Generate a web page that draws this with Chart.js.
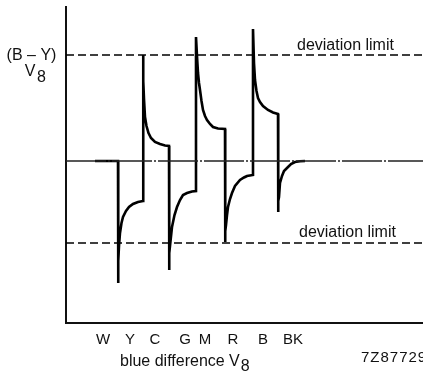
<!DOCTYPE html>
<html lang="en">
<head>
  <meta charset="UTF-8" />
  <title>Blue difference signal V8</title>
  <script src="https://cdn.jsdelivr.net/npm/chart.js"></script>
  <style>
    html, body { margin: 0; padding: 0; background: #fff; }
    #wrap { width: 423px; height: 375px; position: relative; }
  </style>
</head>
<body>
  <div id="wrap"><canvas id="chart"></canvas></div>

  <script>
    // colour bars along x, signal level on y (arbitrary units, 0 = centre line)
    const tickPos = [37, 64, 89, 119, 139, 167, 197, 227];
    const tickLabels = ["W", "Y", "C", "G", "M", "R", "B", "BK"];

    const centreLevel = 0;
    const upperLimit = 106;
    const lowerLimit = -82;

    const traceX = [
      29, 52, 52, 52.5, 53, 54, 55.5, 57, 60, 63, 67, 72, 77,
      77, 77.5, 78, 79, 80.5, 82.5, 85, 89, 94, 99, 103,
      103, 103.5, 104.5, 106, 108.5, 111, 114, 117, 121, 126, 130,
      130, 131, 132, 133, 134, 135.5, 137, 139, 141, 144, 147, 152, 159,
      159, 159.5, 160, 161, 162, 164, 166, 169, 174, 178, 181, 187,
      187, 188, 189, 190.5, 192, 194, 197, 202, 207, 212,
      212, 212.5, 213, 214, 216, 218, 221, 225, 229, 234, 239
    ];
    const traceY = [
      0, 0, -122, -100, -85, -72, -62, -56, -50, -46, -43, -41, -40,
      106, 80, 62, 44, 35, 28, 23, 19, 17, 15.5, 15,
      -109, -92, -80, -66, -54, -46, -39, -34, -32, -30.5, -30,
      124, 105, 88, 78, 71, 60, 51, 45, 41, 37, 34, 32.5, 32,
      -81, -70, -64, -54, -46, -38, -32, -25, -19, -16.5, -15, -14,
      132, 98, 81, 70, 63, 59, 55, 51, 48.5, 47,
      -51, -40, -36, -22, -15, -10, -7, -3, -1, -0.3, 0
    ];

    const xMin = 0, xMax = 357;
    const yMin = -162, yMax = 154;
    const FONT = "'Liberation Sans', Arial, sans-serif";

    function hline(level, dash, width, colour) {
      return {
        data: [{ x: xMin, y: level }, { x: xMax, y: level }],
        borderColor: colour,
        borderWidth: width,
        borderDash: dash,
        pointRadius: 0,
        fill: false
      };
    }

    const labelsPlugin = {
      id: "labels",
      afterDraw(chart) {
        const ctx = chart.ctx;
        const ys = chart.scales.y;
        ctx.save();
        ctx.fillStyle = "#111";
        ctx.textBaseline = "middle";
        ctx.font = "16px " + FONT;

        ctx.textAlign = "left";
        ctx.fillText("deviation limit", 297, ys.getPixelForValue(upperLimit) - 9);
        ctx.fillText("deviation limit", 299, ys.getPixelForValue(lowerLimit) - 10);

        const t = "blue difference V";
        ctx.fillText(t, 120, 362);
        const w = ctx.measureText(t).width;
        ctx.fillText("8", 120 + w + 1, 367);

        ctx.textAlign = "center";
        ctx.fillText("(B \u2013 Y)", 31.5, ys.getPixelForValue(upperLimit) + 1);
        ctx.fillText("V", 30, 72);
        ctx.textAlign = "left";
        ctx.fillText("8", 37, 78);

        ctx.font = "15px " + FONT;
        ctx.letterSpacing = "1px";
        ctx.fillText("7Z87729", 361, 358);
        ctx.restore();
      }
    };

    new Chart(document.getElementById("chart"), {
      type: "line",
      data: {
        datasets: [
          hline(upperLimit, [8, 4], 1.4, "#000"),
          hline(centreLevel, [40, 2, 2, 2], 1.3, "#222"),
          hline(lowerLimit, [8, 4], 1.4, "#000"),
          {
            data: traceX.map((x, i) => ({ x: x, y: traceY[i] })),
            borderColor: "#000",
            borderWidth: 2.6,
            pointRadius: 0,
            tension: 0,
            fill: false
          }
        ]
      },
      options: {
        responsive: true,
        maintainAspectRatio: false,
        devicePixelRatio: 1,
        animation: false,
        layout: { padding: { top: 7, right: 0, left: 0, bottom: 0 } },
        plugins: { legend: { display: false }, tooltip: { enabled: false } },
        scales: {
          x: {
            type: "linear",
            min: xMin,
            max: xMax,
            grid: { display: false, drawTicks: false },
            border: { display: true, color: "#111", width: 2 },
            afterBuildTicks: (scale) => { scale.ticks = tickPos.map(v => ({ value: v })); },
            afterFit: (scale) => { scale.height = 52; },
            ticks: {
              autoSkip: false,
              maxRotation: 0,
              padding: 8,
              color: "#111",
              font: { family: FONT, size: 15 },
              callback: (v) => tickLabels[tickPos.indexOf(v)]
            }
          },
          y: {
            type: "linear",
            min: yMin,
            max: yMax,
            grid: { display: false, drawTicks: false },
            border: { display: true, color: "#111", width: 2 },
            ticks: { display: false },
            afterFit: (scale) => { scale.width = 66; }
          }
        }
      },
      plugins: [labelsPlugin]
    });
  </script>
</body>
</html>
